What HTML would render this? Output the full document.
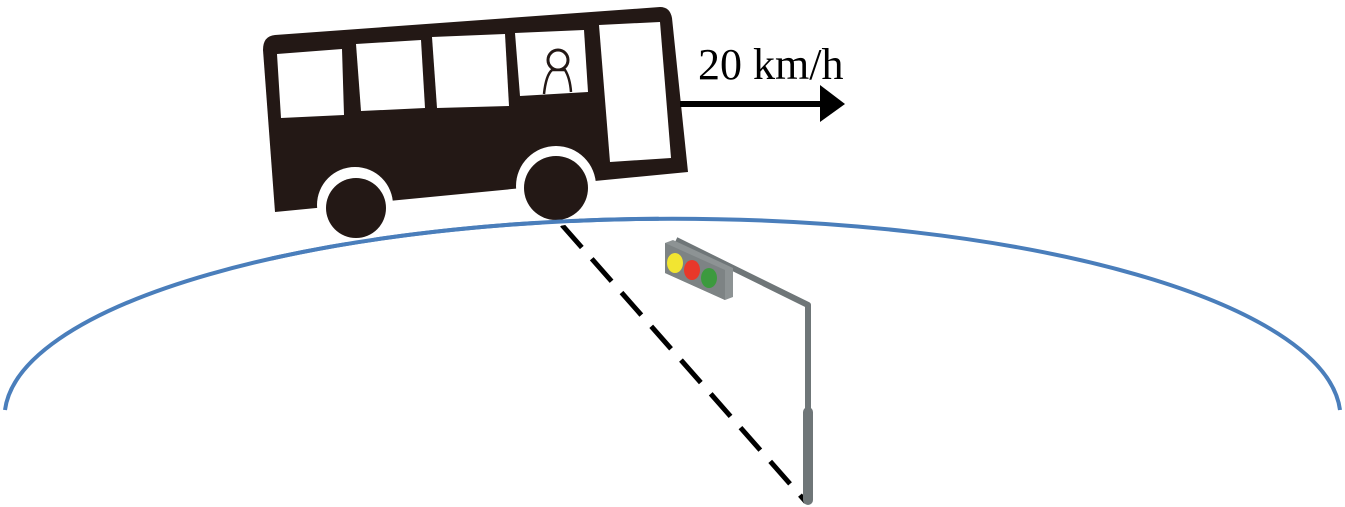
<!DOCTYPE html>
<html><head><meta charset="utf-8"><style>html,body{margin:0;padding:0;background:#fff}svg{display:block}</style></head>
<body>
<svg width="1345" height="507" viewBox="0 0 1345 507" xmlns="http://www.w3.org/2000/svg">
  <rect width="1345" height="507" fill="#fff"/>
  <path d="M5,410 A668,199 0 0 1 1340,410" fill="none" stroke="#4a7ebb" stroke-width="4"/>
  <line x1="562" y1="225" x2="806" y2="502" stroke="#000" stroke-width="5" stroke-dasharray="30,15"/>
  <g>
    <polyline points="676,240 808,305 808,420" fill="none" stroke="#6f7678" stroke-width="6" stroke-linejoin="round"/>
    <line x1="808" y1="412" x2="808" y2="500" stroke="#6f7678" stroke-width="10" stroke-linecap="round"/>
    <polygon points="665,243 673,240 733,268 733,297 725,300 665,273" fill="#8d9394"/>
    <polygon points="665,243 725,270 725,300 665,273" fill="#7d8384"/>
    <ellipse cx="675" cy="263" rx="8" ry="10" fill="#f2e531"/>
    <ellipse cx="692" cy="270" rx="8" ry="10" fill="#e8382a"/>
    <ellipse cx="709" cy="278" rx="8" ry="10" fill="#3c9a3e"/>
  </g>
  <g>
    <path d="M275,35 L660,7 Q670,7 672,18 L688,172 L275,212 L263,50 Q263,36 275,35 Z" fill="#231815"/>
    <polygon points="277,54 342,49 344,115 281,118" fill="#fff"/>
    <polygon points="356,44 421,40 425,108 361,111" fill="#fff"/>
    <polygon points="432,37 505,34 509,106 437,108" fill="#fff"/>
    <polygon points="515,33 584,30 588,92 520,96" fill="#fff"/>
    <polygon points="599,25 660,22 671,158 610,162" fill="#fff"/>
    <g>
      <circle cx="558" cy="60" r="10" fill="#fff" stroke="#231815" stroke-width="3"/>
      <path d="M544,94 Q546,75 552,70 L565,70 Q570,78 571,92" fill="#fff" stroke="#231815" stroke-width="2.5"/>
    </g>
    <circle cx="355" cy="205" r="38" fill="#fff"/>
    <circle cx="356" cy="208" r="30" fill="#231815"/>
    <circle cx="556" cy="186" r="40" fill="#fff"/>
    <circle cx="556" cy="188" r="32" fill="#231815"/>
  </g>
  <path d="M5,410 A668,199 0 0 1 1340,410" fill="none" stroke="#4a7ebb" stroke-width="4" stroke-dasharray="0,320,390,2000"/>
  <g>
    <line x1="680" y1="104" x2="825" y2="104" stroke="#000" stroke-width="6"/>
    <polygon points="820,85 845,104 820,122" fill="#000"/>
  </g>
  <text x="698" y="79" font-family="Liberation Serif, serif" font-size="44" fill="#000">20 km/h</text>
</svg>
</body></html>
